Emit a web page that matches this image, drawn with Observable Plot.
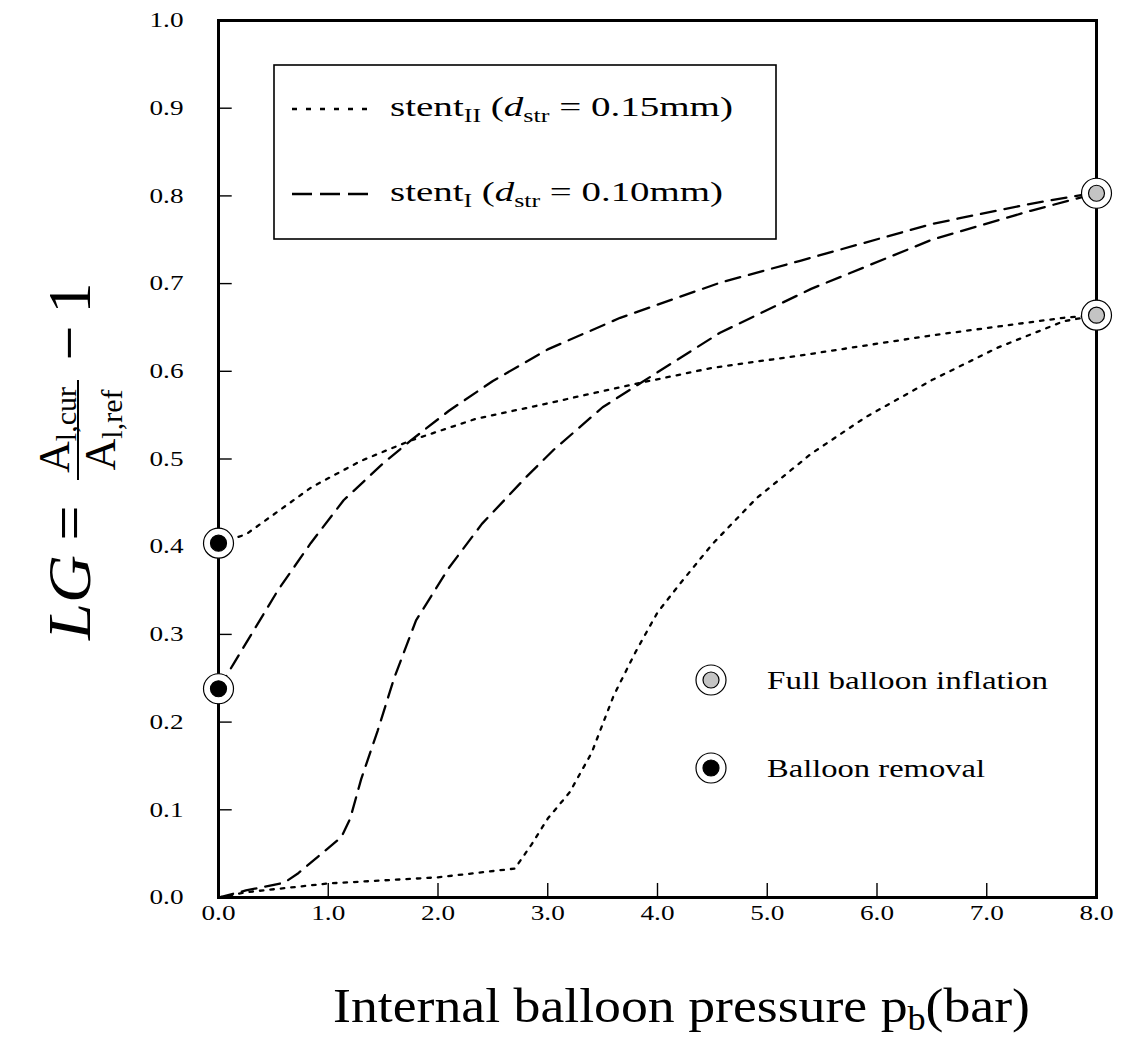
<!DOCTYPE html>
<html><head><meta charset="utf-8">
<script src="https://cdn.jsdelivr.net/npm/d3@7"></script>
<script src="https://cdn.jsdelivr.net/npm/@observablehq/plot@0.6"></script>
<style>
body{margin:0;background:#fff;}
#wrap{position:relative;width:1123px;height:1040px;overflow:hidden;}
#wrap svg{position:absolute;left:0;top:0;}
</style></head><body><div id="wrap"></div>
<script>
// ---- data ----
const xTicks = [0, 1, 2, 3, 4, 5, 6, 7, 8];
const yTicks = [0, 0.1, 0.2, 0.3, 0.4, 0.5, 0.6, 0.7, 0.8, 0.9, 1.0];

// stent II (d_str = 0.15 mm), dotted
const stentII_load_p  = [0, 0.25, 1.0, 2.0, 2.7, 2.85, 3.0, 3.2, 3.4, 3.6, 3.8, 4.0, 4.2, 4.5, 4.9, 5.4, 5.9, 6.5, 7.1, 7.7, 8.0];
const stentII_load_lg = [0, 0.006, 0.016, 0.023, 0.033, 0.06, 0.09, 0.12, 0.165, 0.23, 0.28, 0.325, 0.357, 0.403, 0.455, 0.506, 0.548, 0.59, 0.627, 0.657, 0.664];
const stentII_unload_p  = [0, 0.25, 0.85, 1.3, 1.75, 2.35, 2.8, 3.85, 4.5, 5.3, 6.5, 7.7, 8.0];
const stentII_unload_lg = [0.404, 0.414, 0.468, 0.498, 0.521, 0.546, 0.558, 0.587, 0.604, 0.618, 0.641, 0.661, 0.664];

// stent I (d_str = 0.10 mm), dashed
const stentI_load_p  = [0, 0.25, 0.6, 0.72, 1.12, 1.2, 1.3, 1.45, 1.6, 1.8, 2.1, 2.4, 2.8, 3.05, 3.5, 3.85, 4.57, 5.4, 6.5, 7.4, 8.0];
const stentI_load_lg = [0, 0.008, 0.017, 0.027, 0.069, 0.09, 0.135, 0.19, 0.25, 0.316, 0.376, 0.426, 0.479, 0.51, 0.559, 0.587, 0.644, 0.694, 0.75, 0.783, 0.803];
const stentI_unload_p  = [0, 0.14, 0.54, 0.84, 1.14, 1.5, 1.75, 2.1, 2.5, 2.75, 3.0, 3.66, 4.57, 5.3, 6.5, 7.4, 8.0];
const stentI_unload_lg = [0.238, 0.267, 0.35, 0.404, 0.453, 0.495, 0.521, 0.555, 0.589, 0.607, 0.625, 0.661, 0.701, 0.726, 0.768, 0.791, 0.804];

// ---- build tables ----
const zip = (p, lg) => p.map((v, i) => ({p: v, lg: lg[i]}));
const dotted = [zip(stentII_load_p, stentII_load_lg), zip(stentII_unload_p, stentII_unload_lg)];
const dashed = [zip(stentI_load_p, stentI_load_lg), zip(stentI_unload_p, stentI_unload_lg)];
const fullInflation = [dotted[0].at(-1), dashed[0].at(-1)];
const removal = [dotted[1][0], dashed[1][0]];

const fmt = d3.format(".1f");
const font = "Liberation Serif, DejaVu Serif, serif";

const chart = Plot.plot({
  width: 1123, height: 950,
  marginLeft: 218, marginRight: 27, marginTop: 20, marginBottom: 53,
  style: {fontFamily: font, fontSize: "21px", background: "transparent", color: "#000"},
  x: {domain: [0, 8]},
  y: {domain: [0, 1]},
  marks: [
    Plot.axisX(xTicks, {tickSize: 0, tickPadding: 8, tickFormat: fmt, label: null, fontSize: 21, fontFamily: font}),
    Plot.axisY(yTicks, {tickSize: 0, tickPadding: 35, tickFormat: fmt, label: null, fontSize: 21, fontFamily: font}),
    Plot.ruleX(xTicks.slice(1, -1), {x: d => d, y1: 0, y2: 0.016, stroke: "#000", strokeWidth: 1.4}),
    Plot.ruleY(yTicks.slice(1, -1), {y: d => d, x1: 0, x2: 0.125, stroke: "#000", strokeWidth: 1.4}),
    ...dotted.map(s => Plot.line(s, {x: "p", y: "lg", stroke: "#000", strokeWidth: 2.3, strokeDasharray: "3.5,7"})),
    ...dashed.map(s => Plot.line(s, {x: "p", y: "lg", stroke: "#000", strokeWidth: 2.3, strokeDasharray: "15,9"})),
    Plot.frame({stroke: "#000", strokeWidth: 3}),
    Plot.dot([...fullInflation, ...removal], {x: "p", y: "lg", r: 15, fill: "white", stroke: "#000", strokeWidth: 1.2}),
    Plot.dot(fullInflation, {x: "p", y: "lg", r: 8, fill: "#c4c4c4", stroke: "#000", strokeWidth: 1.2}),
    Plot.dot(removal, {x: "p", y: "lg", r: 8, fill: "#000", stroke: "#000", strokeWidth: 1.2})
  ]
});
document.getElementById("wrap").appendChild(chart);
// widen tick labels like the reference's wide serif digits
chart.querySelectorAll('g[aria-label="x-axis tick label"] text, g[aria-label="y-axis tick label"] text').forEach(t => {
  t.setAttribute("textLength", 34);
  t.setAttribute("lengthAdjust", "spacingAndGlyphs");
});

// ---- annotations: legends and axis titles ----
const NB = "\u00A0";
const ov = document.createElementNS("http://www.w3.org/2000/svg", "svg");
ov.setAttribute("width", 1123); ov.setAttribute("height", 1040);
ov.setAttribute("font-family", font);
ov.innerHTML = `
  <rect x="274" y="65" width="502" height="174" fill="white" stroke="#000" stroke-width="1.6"/>
  <line x1="292" x2="368" y1="109" y2="109" stroke="#000" stroke-width="2.6" stroke-dasharray="5,9"/>
  <line x1="292" x2="368" y1="194" y2="194" stroke="#000" stroke-width="2.6" stroke-dasharray="20,8"/>
  <text x="390" y="116" font-size="27" textLength="343" lengthAdjust="spacingAndGlyphs">stent<tspan font-size="18" dy="6">II</tspan><tspan dy="-6">${NB}(</tspan><tspan font-style="italic">d</tspan><tspan font-size="18" dy="6">str</tspan><tspan dy="-6">${NB}=${NB}0.15mm)</tspan></text>
  <text x="390" y="201" font-size="27" textLength="333" lengthAdjust="spacingAndGlyphs">stent<tspan font-size="18" dy="6">I</tspan><tspan dy="-6">${NB}(</tspan><tspan font-style="italic">d</tspan><tspan font-size="18" dy="6">str</tspan><tspan dy="-6">${NB}=${NB}0.10mm)</tspan></text>

  <circle cx="711" cy="680" r="15" fill="white" stroke="#000" stroke-width="1.2"/>
  <circle cx="711" cy="680" r="8" fill="#c4c4c4" stroke="#000" stroke-width="1.2"/>
  <circle cx="711" cy="768" r="15" fill="white" stroke="#000" stroke-width="1.2"/>
  <circle cx="711" cy="768" r="8" fill="#000" stroke="#000" stroke-width="1.2"/>
  <text x="767" y="689" font-size="26" textLength="281" lengthAdjust="spacingAndGlyphs">Full balloon inflation</text>
  <text x="767" y="777" font-size="26" textLength="218" lengthAdjust="spacingAndGlyphs">Balloon removal</text>

  <text x="333" y="1022" font-size="49" textLength="697" lengthAdjust="spacingAndGlyphs">Internal balloon pressure p<tspan font-size="33" dy="8">b</tspan><tspan dy="-8">(bar)</tspan></text>

  <g transform="translate(78,465) rotate(-90)">
    <text x="-175" y="12" font-size="62" font-style="italic" textLength="85" lengthAdjust="spacingAndGlyphs">LG</text>
    <text x="-58" y="12" font-size="62" text-anchor="middle">=</text>
    <line x1="-15" x2="85" y1="0" y2="0" stroke="#000" stroke-width="2"/>
    <text x="35" y="-9" font-size="44" text-anchor="middle">A<tspan font-size="30" dy="7">l,cur</tspan></text>
    <text x="35" y="37" font-size="44" text-anchor="middle">A<tspan font-size="30" dy="7">l,ref</tspan></text>
    <text x="122" y="12" font-size="62" text-anchor="middle">\u2212</text>
    <text x="167" y="12" font-size="62" text-anchor="middle">1</text>
  </g>
`;
document.getElementById("wrap").appendChild(ov);
</script></body></html>
